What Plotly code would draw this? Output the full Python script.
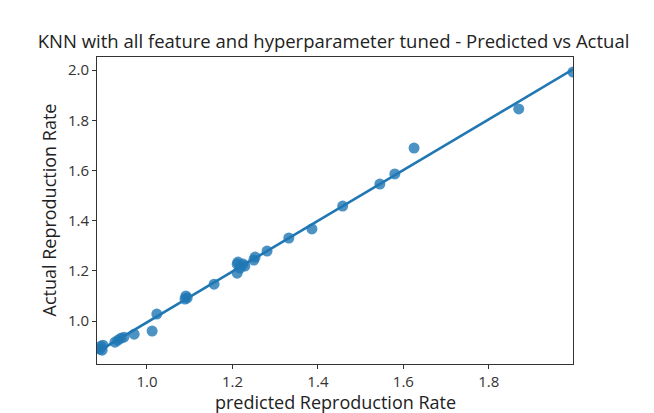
import numpy as np
import plotly.graph_objects as go

predicted = [0.890, 0.892, 0.897, 0.895, 0.925, 0.932, 0.939, 0.946, 0.970, 1.012,
             1.023, 1.089, 1.091, 1.094, 1.157, 1.211, 1.211, 1.218, 1.225, 1.229,
             1.213, 1.250, 1.253, 1.281, 1.332, 1.386, 1.458, 1.545, 1.580, 1.625,
             1.870, 1.997]
actual = [0.888, 0.900, 0.904, 0.884, 0.916, 0.924, 0.932, 0.936, 0.948, 0.960,
          1.028, 1.088, 1.100, 1.092, 1.147, 1.191, 1.227, 1.211, 1.227, 1.219,
          1.235, 1.243, 1.255, 1.279, 1.331, 1.367, 1.458, 1.546, 1.586, 1.689,
          1.845, 1.992]
x_ticks = [1.0, 1.2, 1.4, 1.6, 1.8]
y_ticks = [1.0, 1.2, 1.4, 1.6, 1.8, 2.0]
x_title = "predicted Reproduction Rate"
y_title = "Actual Reproduction Rate"
chart_title = "KNN with all feature and hyperparameter tuned - Predicted vs Actual"

x_range = [0.883, 1.997]
y_range = [0.829, 2.052]

slope, intercept = np.polyfit(predicted, actual, 1)
line_x = np.array(x_range)
line_y = slope * line_x + intercept

blue = "#1f77b4"
font = "Open Sans"

fig = go.Figure()
fig.add_trace(go.Scatter(x=predicted, y=actual, mode="markers",
                         marker=dict(color=blue, size=11, opacity=0.8, line=dict(width=0)),
                         cliponaxis=True, showlegend=False))
fig.add_trace(go.Scatter(x=line_x, y=line_y, mode="lines",
                         line=dict(color=blue, width=2.6), showlegend=False))

axis_common = dict(showgrid=False, zeroline=False, showline=True, mirror=True,
                   linecolor="#333333", linewidth=1, ticks="outside", ticklen=4,
                   tickcolor="#333333", automargin=False,
                   tickfont=dict(family=font, size=15, color="#333333"))

fig.update_xaxes(range=x_range, tickvals=x_ticks, ticktext=[f"{v:.1f}" for v in x_ticks],
                 **axis_common)
fig.update_yaxes(range=y_range, tickvals=y_ticks, ticktext=[f"{v:.1f}" for v in y_ticks],
                 **axis_common)

title_font = dict(family=font, size=18, color="#222222")
fig.add_annotation(text=x_title, xref="paper", yref="paper", x=0.5, y=0,
                   xanchor="center", yanchor="middle", yshift=-38,
                   showarrow=False, font=title_font)
fig.add_annotation(text=y_title, xref="paper", yref="paper", x=0, y=0.5,
                   xanchor="center", yanchor="middle", xshift=-49, textangle=-90,
                   showarrow=False, font=title_font)

# page body has an 8px margin, so the figure is 8px smaller than the window
fig.update_layout(
    width=646, height=405,
    margin=dict(l=89, r=81, t=49, b=49),
    paper_bgcolor="white", plot_bgcolor="white",
    title=dict(text=chart_title,
               x=0.504, xanchor="center", y=1 - 34 / 405, yanchor="middle",
               font=dict(family=font, size=18.5, color="#222222")),
)

fig.write_html("out.html")
